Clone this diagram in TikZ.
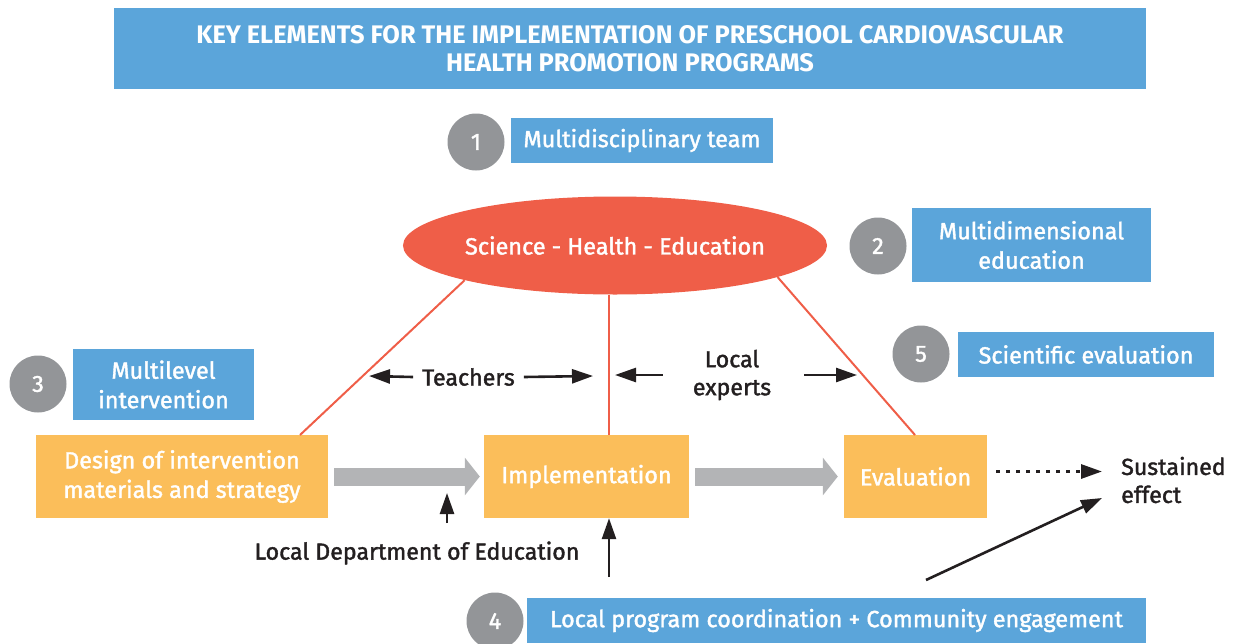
\documentclass[tikz,border=0pt]{standalone}
\usepackage{fontspec}
\setmainfont{Fira Sans}[UprightFeatures={FakeBold=1.6}]
\usetikzlibrary{arrows.meta,shapes.geometric}
\definecolor{cblue}{HTML}{5BA5DA}
\definecolor{cgray}{HTML}{939598}
\definecolor{corange}{HTML}{FBBE5A}
\definecolor{cred}{HTML}{EF5E48}
\definecolor{carrow}{HTML}{B3B4B6}
\definecolor{cdark}{HTML}{231F20}
\begin{document}
\begin{tikzpicture}[x=1pt,y=-1pt,
  bluebox/.style={fill=cblue,text=white,inner sep=0pt,align=center,font=\fontsize{23.4}{29.5}\selectfont},
  numcirc/.style={circle,fill=cgray,text=white,minimum size=57pt,inner sep=0pt,font=\fontsize{23.4}{25}\selectfont},
  stepbox/.style={fill=corange,text=white,inner sep=0pt,align=center,minimum height=83pt,font=\fontsize{23.4}{29.5}\selectfont},
  lbl/.style={text=cdark,inner sep=0pt,align=center,font=\fontsize{23.2}{28}\selectfont},
  redline/.style={draw=cred,line width=2pt},
  blk/.style={draw=cdark,line width=2.6pt,-{Triangle[length=21pt,width=14pt]}},
  fat/.style={draw=carrow,line width=18pt,-{Triangle[length=15pt,width=37pt]}}
]
\useasboundingbox (0,0) rectangle (1236,643);
% title
\node[bluebox,minimum width=1032pt,minimum height=81pt,font=\bfseries\fontsize{25.4}{28}\selectfont] (title) at (630,48.5)
  {KEY ELEMENTS FOR THE IMPLEMENTATION OF PRESCHOOL CARDIOVASCULAR\\HEALTH PROMOTION PROGRAMS};
% numbered labels
\node[numcirc] (c1) at (476,142) {1};
\node[bluebox,minimum width=262pt,minimum height=45pt] (b1) at (642,140.5) {Multidisciplinary team};
\node[numcirc] (c2) at (878,246) {2};
\node[bluebox,minimum width=239pt,minimum height=74pt] (b2) at (1031.5,245) {Multidimensional\\education};
\node[numcirc] (c5) at (921,354) {5};
\node[bluebox,minimum width=256pt,minimum height=45pt] (b5) at (1086,354.5) {Scientific evaluation};
\node[numcirc] (c3) at (38,384) {3};
\node[bluebox,minimum width=181pt,minimum height=71pt] (b3) at (163.5,384.5) {Multilevel\\intervention};
\node[numcirc] (c4) at (495,621) {4};
\node[bluebox,minimum width=619pt,minimum height=45pt] (b4) at (836.5,620.5) {Local program coordination + Community engagement};
% ellipse
\node[ellipse,fill=cred,text=white,minimum width=420pt,minimum height=98pt,inner sep=0pt,font=\fontsize{23.4}{25}\selectfont] (ell) at (615,245.5) {Science - Health - Education};
% steps
\node[stepbox,minimum width=292pt] (design) at (182,476.5) {Design of intervention\\materials and strategy};
\node[stepbox,minimum width=205pt] (impl) at (586.5,476.5) {Implementation};
\node[stepbox,minimum width=143pt] (eval) at (915.5,476.5) {Evaluation};
% red links
\coordinate (d1) at (300,435);
\coordinate (i1) at (609,435);
\coordinate (e1) at (915,435);
\draw[redline] (ell.193) -- (d1);
\draw[redline] (i1 |- ell.south) -- (i1);
\draw[redline] (ell.349) -- (e1);
% fat gray arrows
\draw[fat] ([xshift=6pt]design.east) -- ([xshift=-4pt]impl.west);
\draw[fat] ([xshift=6pt]impl.east) -- ([xshift=-6pt]eval.west);
% Teachers
\node[lbl] (teach) at (468.5,377) {Teachers};
\coordinate (tl) at (369,376);
\coordinate (tr) at (593,376);
\draw[blk] ([xshift=-9pt]teach.west) -- (tl);
\draw[blk] ([xshift=9pt]teach.east) -- (tr);
% Local experts
\node[lbl] (lexp) at (732,375) {Local\\experts};
\coordinate (ll) at (615,375);
\coordinate (lr) at (857,375);
\draw[blk] ([xshift=-30pt]lexp.west |- ll) -- (ll);
\draw[blk] ([xshift=33pt]lexp.east |- lr) -- (lr);
% Local Department of Education
\node[lbl] (lde) at (417,553) {Local Department of Education};
\coordinate (up1b) at (447,523);
\coordinate (up1t) at (447,493);
\draw[blk] (up1b) -- (up1t);
\coordinate (up2b) at (609,577);
\draw[blk] (up2b) -- (impl.south -| up2b);
% Sustained effect
\node[lbl,align=left,anchor=west] (sust) at (1121,480) {Sustained\\effect};
\coordinate (dt) at (1102,471.5);
\draw[draw=cdark,line width=3pt,dash pattern=on 4pt off 6pt,-{Triangle[length=21pt,width=14pt]}] ([xshift=9pt]eval.east |- dt) -- (dt);
\coordinate (ds) at (926,580);
\coordinate (de) at (1102,498);
\draw[blk] (ds) -- (de);
\end{tikzpicture}
\end{document}
